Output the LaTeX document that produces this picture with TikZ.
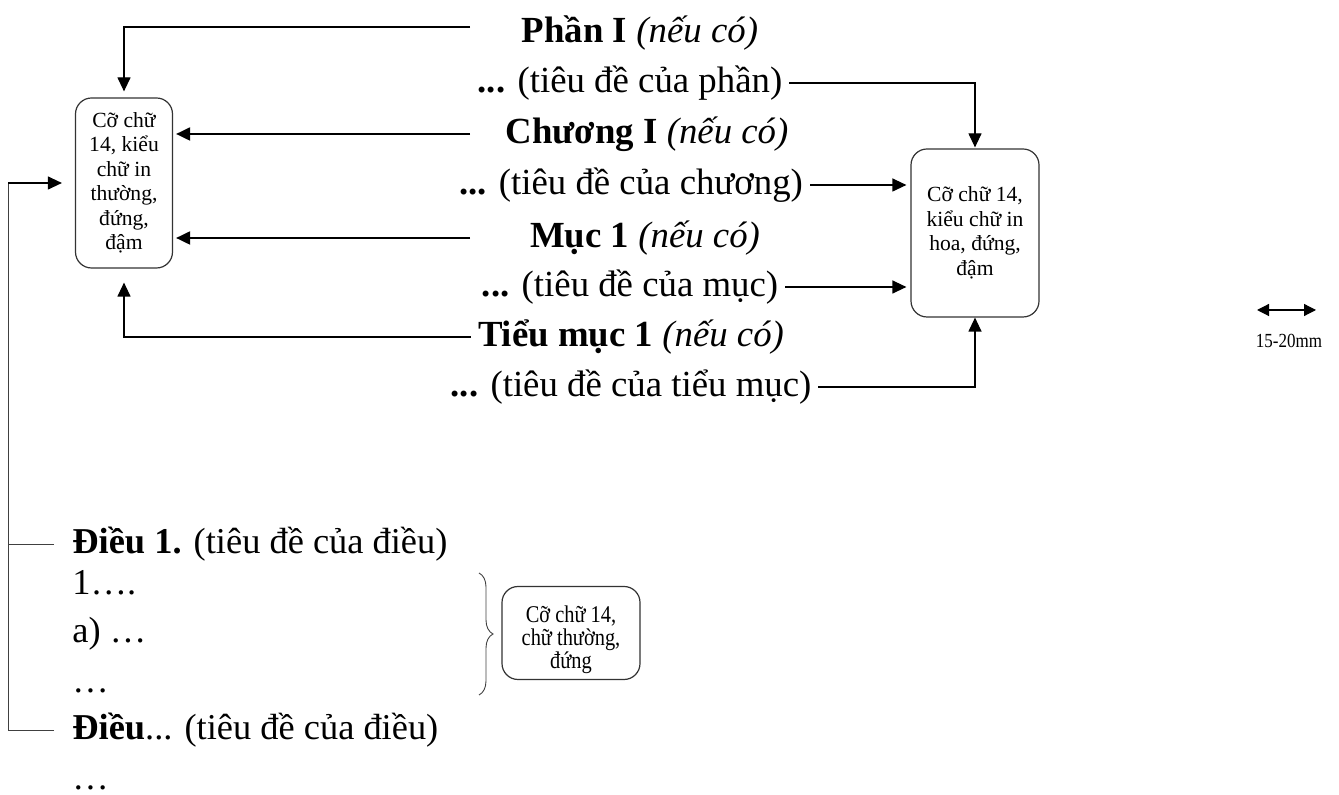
\documentclass[tikz,border=0pt]{standalone}
\usepackage{fontspec}
\setmainfont{Liberation Serif}
\newfontfamily\narrowfont[FakeStretch=0.85]{Liberation Serif}
\usetikzlibrary{arrows.meta}
\usetikzlibrary{decorations.pathreplacing}

\begin{document}
\begin{tikzpicture}[x=0.5pt,y=-0.5pt,
    tip/.style={-{Triangle[length=7pt,width=6.5pt]}},
    conn/.style={line width=0.6pt},
    boldconn/.style={line width=1pt},
    thinconn/.style={line width=0.45pt,black!75},
    heading/.style={anchor=base,font=\fontsize{18.4}{20}\selectfont,text height=14pt,text depth=4pt},
    body/.style={anchor=base west,font=\fontsize{18.2}{20}\selectfont,inner xsep=9pt,text height=14pt,text depth=4pt},
    sizebox/.style={draw=black!80,line width=0.6pt,rounded corners=8pt,align=center,
      font=\fontsize{10.8}{12.25}\selectfont,inner sep=2pt}]
      \useasboundingbox (0,0) rectangle (1339,795);
      %headings
      \node[heading] (phan)     at (640,43)  {\textbf{Phần I} \textit{(nếu có)}};
      \node[heading] (phanT)    at (630,93)  {\textbf{...} (tiêu đề của phần)};
      \node[heading] (chuong)   at (647,144) {\textbf{Chương I} \textit{(nếu có)}};
      \node[heading] (chuongT)  at (631,195) {\textbf{...} (tiêu đề của chương)};
      \node[heading] (muc)      at (645,248) {\textbf{Mục 1} \textit{(nếu có)}};
      \node[heading] (mucT)     at (630,297) {\textbf{...} (tiêu đề của mục)};
      \node[heading] (tieumuc)  at (631,347) {\textbf{Tiểu mục 1} \textit{(nếu có)}};
      \node[heading] (tieumucT) at (631,397) {\textbf{...} (tiêu đề của tiểu mục)};
      %boxes
      \node[sizebox,minimum width=48.5pt,minimum height=85pt] (lbox) at (124,183)
        {Cỡ chữ\\14, kiểu\\chữ in\\thường,\\đứng,\\đậm};
      \node[sizebox,minimum width=64pt,minimum height=84pt] (rbox) at (975,233)
        {Cỡ chữ 14,\\kiểu chữ in\\hoa, đứng,\\đậm};
      \node[sizebox,font=\narrowfont\fontsize{12}{11.5}\selectfont,
        minimum width=69pt,minimum height=46.5pt] (sbox) at (571,633)
        {\rule{0pt}{15pt}Cỡ chữ 14,\\chữ thường,\\đứng};
      %articles
      \node[body] (dieu1) at (54,554) {\textbf{Điều 1.} (tiêu đề của điều)};
      \node[body] (khoan) at (54,595) {1….};
      \node[body] (diem)  at (54,643) {a) …};
      \node[body] (dots1) at (54,693) {…};
      \node[body] (dieuN) at (54,740) {\textbf{Điều}... (tiêu đề của điều)};
      \node[body] (dots2) at (54,790) {…};
      \coordinate (lx) at (470,0);
      \coordinate (spine) at (8,0);
      %left box
      \draw[conn,tip,shorten >=3pt] ([yshift=3pt]phan.west -| lx) -| (lbox.north);
      \draw[boldconn,tip,shorten >=1.5pt] (chuong.west -| lx) -- (chuong.west -| lbox.east);
      \draw[boldconn,tip,shorten >=1.5pt] (muc.west -| lx) -- (muc.west -| lbox.east);
      \draw[conn,tip,shorten >=7pt] (tieumuc.west) -| (lbox.south);
      %right box
      \draw[conn,tip,shorten >=0.5pt] (phanT.east) -| (rbox.north);
      \draw[conn,tip,shorten >=2pt] (chuongT.east) -- (chuongT.east -| rbox.west);
      \draw[conn,tip,shorten >=2pt] (mucT.east) -- (mucT.east -| rbox.west);
      \draw[conn,tip] (tieumucT.east) -| (rbox.south);
      %articles to left box
      \draw[thinconn] (dieu1.west) -- (dieu1.west -| spine);
      \draw[thinconn] (dieuN.west) -| (spine |- lbox.west);
      \draw[conn,tip,shorten >=6.5pt] (spine |- lbox.west) -- (lbox.west);
      %brace
      \coordinate (btop) at (479,573);
      \coordinate (bbot) at (479,695);
      \draw[thinconn,decorate,decoration={brace,amplitude=7pt}] (btop) -- (bbot);
      %scale
      \coordinate (sa) at (1257,310);
      \coordinate (sb) at (1316,310);
      \draw[conn,{Triangle[length=6pt,width=6pt]}-{Triangle[length=6pt,width=6pt]}] (sa) -- (sb);
      \node[anchor=base,font=\narrowfont\fontsize{10}{12}\selectfont] (mm) at (1289,348) {15-20mm};
\end{tikzpicture}
\end{document}
